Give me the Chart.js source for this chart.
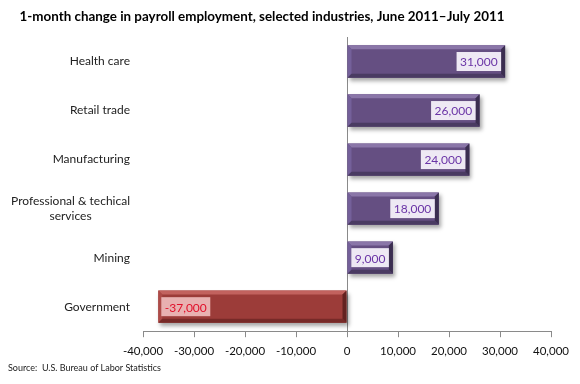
<!DOCTYPE html>
<html>
<head>
<meta charset="utf-8">
<script src="https://cdn.jsdelivr.net/npm/chart.js@4"></script>
<style>
  html, body { margin: 0; padding: 0; background: #fff; }
  #wrap { width: 580px; height: 384px; }
</style>
</head>
<body>
<div id="wrap"><canvas id="payrollChart" width="580" height="384"></canvas></div>
<script>
const categories = [
  "Health care",
  "Retail trade",
  "Manufacturing",
  ["Professional & techical", "services"],
  "Mining",
  "Government",
];
const changes = [31000, 26000, 24000, 18000, 9000, -37000];
const xTicks = { min: -40000, max: 40000, step: 10000 };

const titleText = "1-month change in payroll employment, selected industries, June 2011\u2013July 2011";
const sourceText = "Source:  U.S. Bureau of Labor Statistics";

const FONT = "Lato, 'Open Sans', sans-serif";

const palette = {
  pos: { fill: "#654f82", light: "#8a76a8", side: "#74609a", dark: "#4a3b62", darker: "#3b2e50",
         box: "#eee9f4", text: "#6a34a6" },
  neg: { fill: "#9c3c39", light: "#c2625e", side: "#ad4a47", dark: "#772a28", darker: "#632220",
         box: "#e8b1b1", text: "#e0102a" },
};

const fmt = (v) => v.toLocaleString("en-US");

const drawBevel = (ctx, l, r, t, b, c) => {
  const w = 4;
  const poly = (pts, color) => {
    ctx.beginPath();
    ctx.moveTo(pts[0][0], pts[0][1]);
    pts.slice(1).forEach((p) => ctx.lineTo(p[0], p[1]));
    ctx.closePath();
    ctx.fillStyle = color;
    ctx.fill();
  };
  poly([[l, t], [r, t], [r - w, t + w], [l + w, t + w]], c.light);
  poly([[l, t], [l + w, t + w], [l + w, b - w], [l, b]], c.side);
  poly([[l, b], [l + w, b - w], [r - w, b - w], [r, b]], c.dark);
  poly([[r, t], [r, b], [r - w, b - w], [r - w, t + w]], c.darker);
};

const barShadow = {
  id: "barShadow",
  beforeDatasetsDraw(chart) {
    const ctx = chart.ctx;
    ctx.save();
    ctx.shadowColor = "rgba(0,0,0,0.35)";
    ctx.shadowBlur = 4;
    ctx.shadowOffsetX = 2;
    ctx.shadowOffsetY = 3;
  },
  afterDatasetsDraw(chart) {
    chart.ctx.restore();
  },
};

const decorations = {
  id: "decorations",
  afterDraw(chart) {
    const ctx = chart.ctx;
    const yScale = chart.scales.y;
    ctx.save();

    // title
    ctx.font = "bold 13.4px " + FONT;
    ctx.fillStyle = "#000";
    ctx.textAlign = "center";
    ctx.textBaseline = "middle";
    ctx.fillText(titleText, 262, 17);

    // category labels, right edge at 130, multi-line centred on each other
    ctx.font = "12px " + FONT;
    ctx.fillStyle = "#222";
    categories.forEach((lab, i) => {
      const lines = Array.isArray(lab) ? lab : [lab];
      const w = Math.max(...lines.map((l) => ctx.measureText(l).width));
      const cx = 130 - w / 2;
      const yc = yScale.getPixelForValue(i);
      lines.forEach((l, j) => {
        ctx.fillText(l, cx, yc + (j - (lines.length - 1) / 2) * 15);
      });
    });

    // bevels + value labels
    const meta = chart.getDatasetMeta(0);
    meta.data.forEach((el, i) => {
      const v = changes[i];
      const c = v >= 0 ? palette.pos : palette.neg;
      const l = Math.min(el.x, el.base);
      const r = Math.max(el.x, el.base);
      const t = el.y - el.height / 2;
      const b = el.y + el.height / 2;
      drawBevel(ctx, l, r, t, b, c);

      const txt = fmt(v);
      ctx.font = "12px " + FONT;
      const tw = ctx.measureText(txt).width;
      const bw = tw + 7;
      const bh = 19;
      const bx = v >= 0 ? r - 4 - bw : l + 3;
      ctx.fillStyle = c.box;
      ctx.fillRect(bx, el.y - bh / 2, bw, bh);
      ctx.fillStyle = c.text;
      ctx.textAlign = "center";
      ctx.fillText(txt, bx + bw / 2, el.y + 1);
    });

    // source
    ctx.font = "9px " + FONT;
    ctx.fillStyle = "#222";
    ctx.textAlign = "left";
    ctx.fillText(sourceText, 8, 368);
    ctx.restore();
  },
};

new Chart(document.getElementById("payrollChart"), {
  type: "bar",
  data: {
    labels: categories,
    datasets: [
      {
        data: changes,
        backgroundColor: changes.map((v) => (v >= 0 ? palette.pos.fill : palette.neg.fill)),
        borderWidth: 0,
        barPercentage: 0.66,
        categoryPercentage: 1,
      },
    ],
  },
  options: {
    indexAxis: "y",
    responsive: false,
    animation: false,
    layout: { padding: { top: 37, right: 29, bottom: 19, left: 0 } },
    plugins: {
      legend: { display: false },
      tooltip: { enabled: false },
      title: { display: false },
    },
    scales: {
      x: {
        type: "linear",
        min: xTicks.min,
        max: xTicks.max,
        ticks: {
          stepSize: xTicks.step,
          padding: 7,
          color: "#111",
          font: { family: FONT, size: 11.5 },
          callback: (v) => fmt(v),
        },
        grid: {
          drawOnChartArea: true,
          color: (ctx) => (ctx.tick && ctx.tick.value === 0 ? "#8a8a8a" : "rgba(0,0,0,0)"),
          tickColor: "#8a8a8a",
          tickLength: 6,
          lineWidth: 1,
        },
        border: { color: "#8a8a8a", width: 1 },
      },
      y: {
        ticks: { display: false },
        grid: { display: false },
        border: { display: false },
        afterFit: (scale) => {
          scale.width = 143;
        },
      },
    },
  },
  plugins: [barShadow, decorations],
});
</script>
</body>
</html>
